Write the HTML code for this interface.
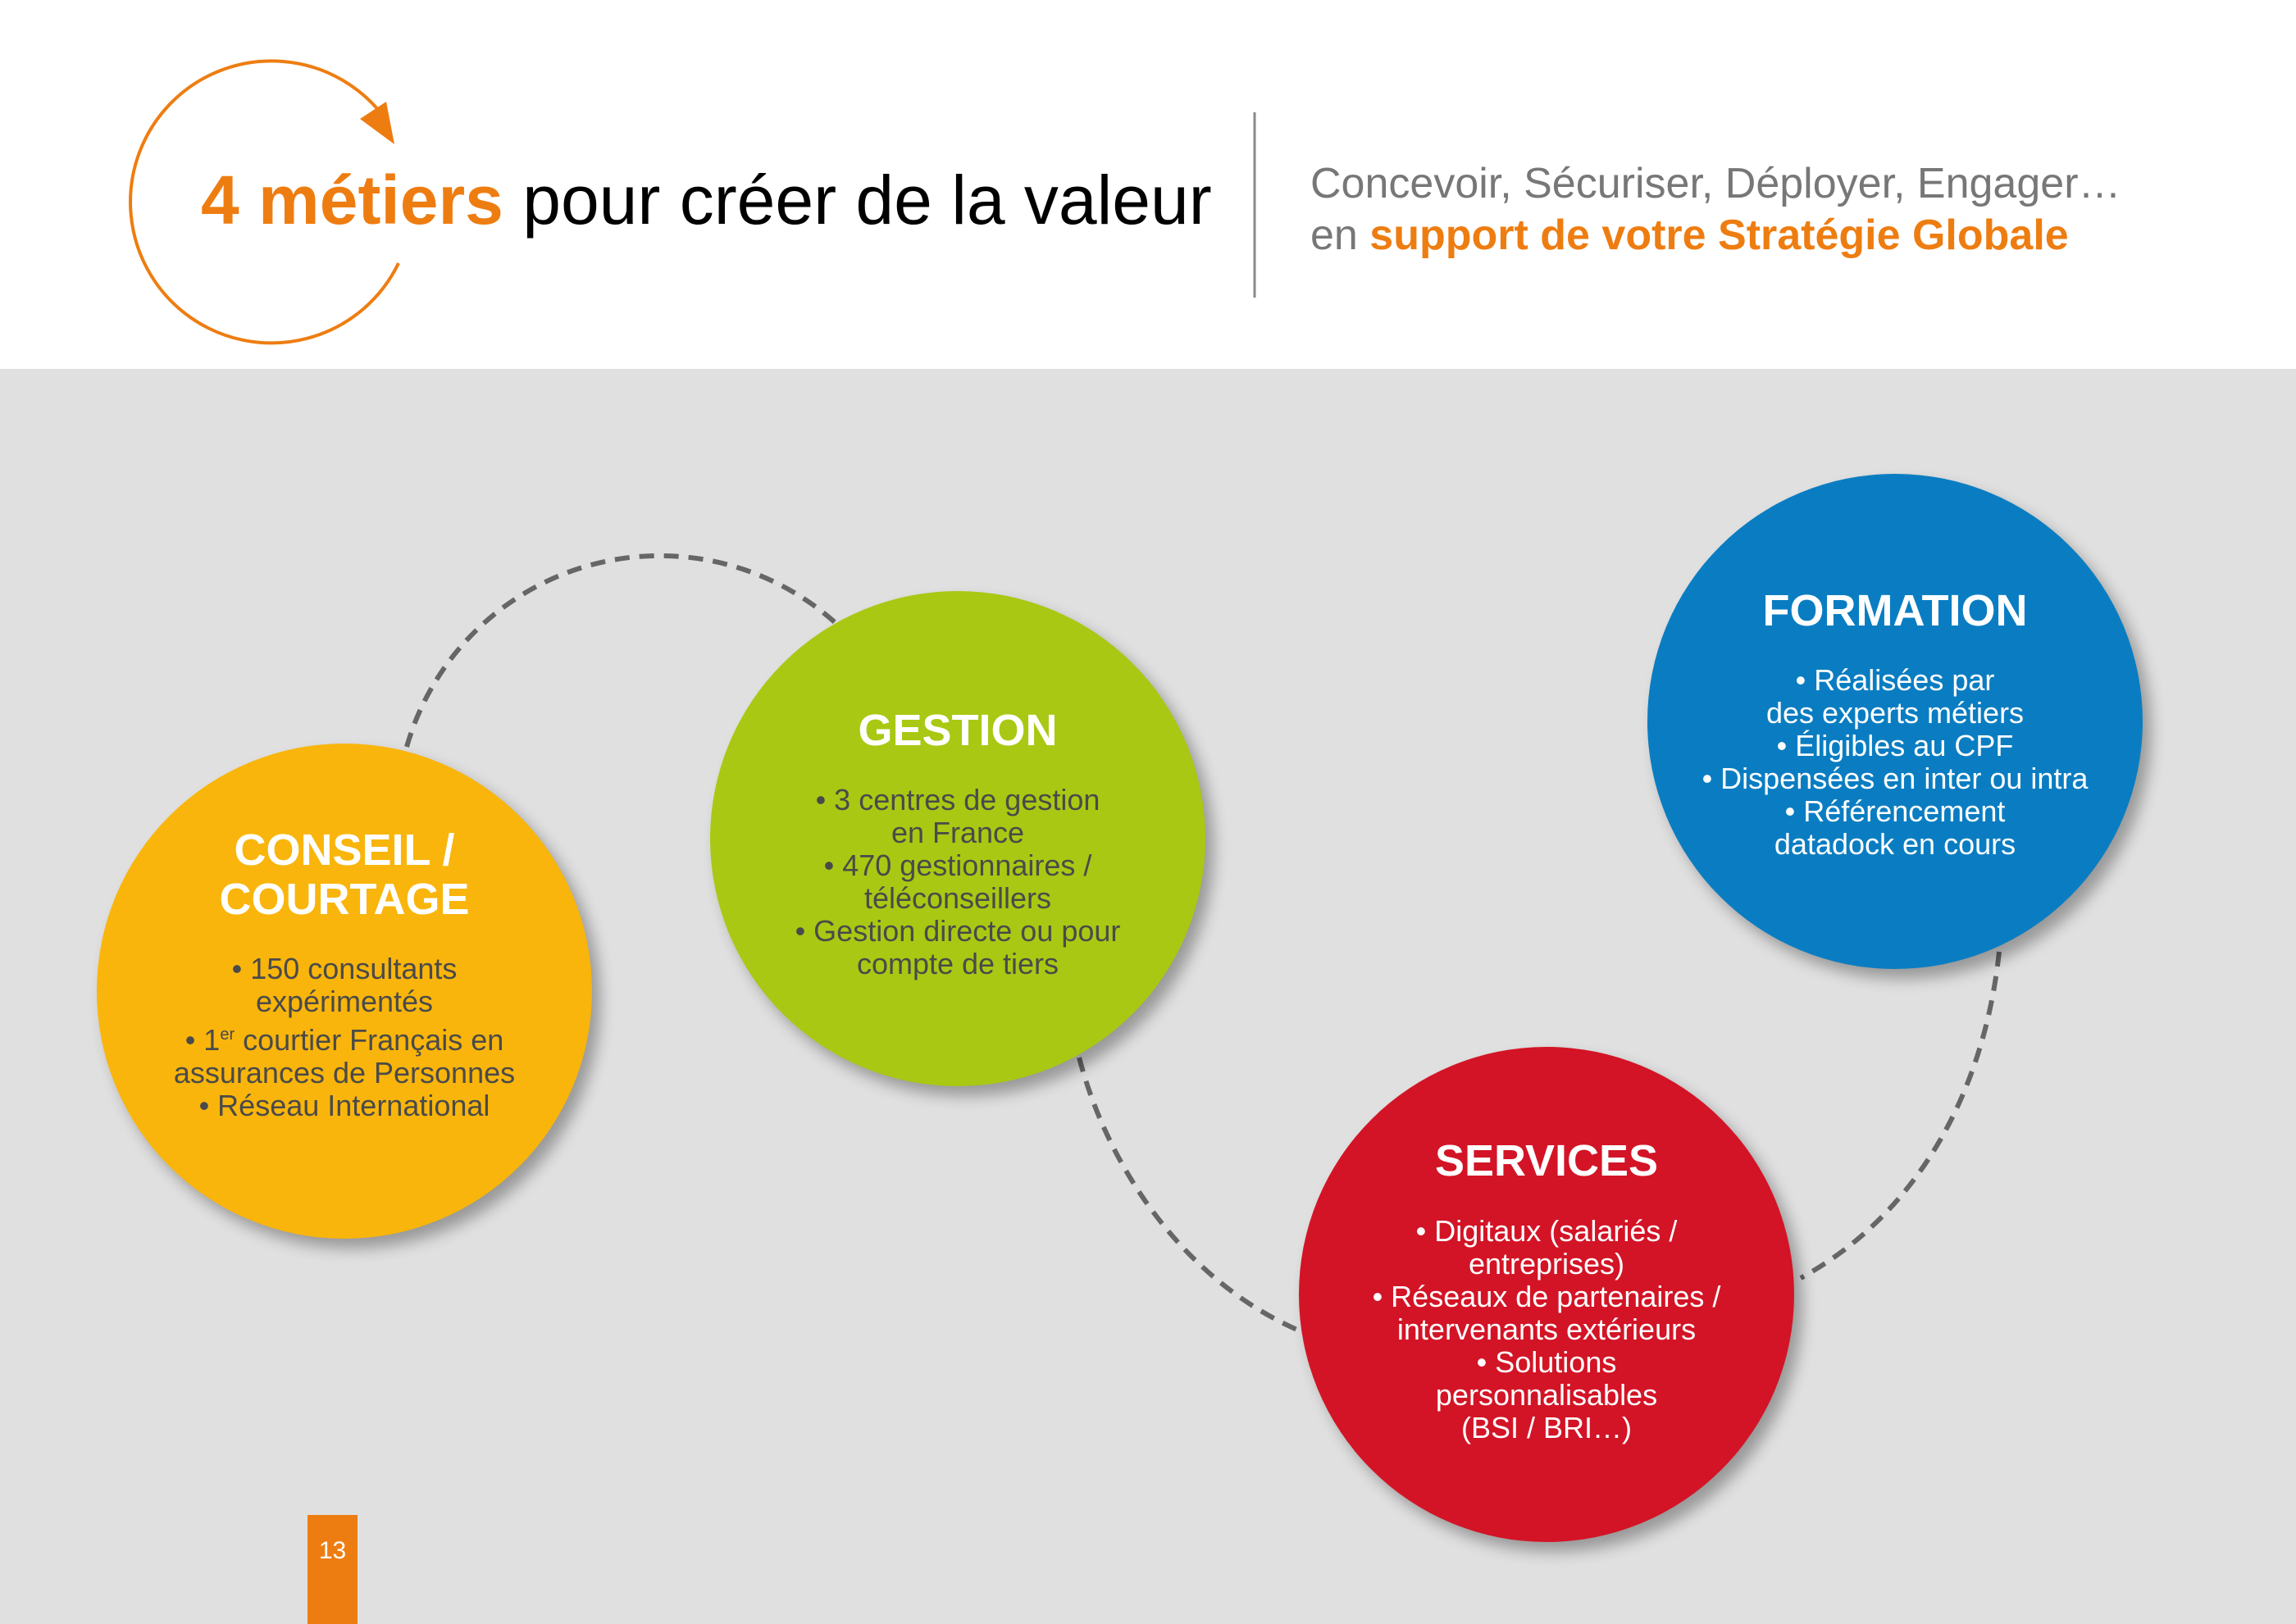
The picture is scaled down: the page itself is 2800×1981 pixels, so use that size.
<!DOCTYPE html>
<html><head><meta charset="utf-8"><style>
body{margin:0;width:2800px;height:1981px;position:relative;overflow:hidden;background:#e0e0e0;font-family:"Liberation Sans",Arial,sans-serif}
.hdr{position:absolute;left:0;top:0;width:2800px;height:450px;background:#fff}
.t{position:absolute;white-space:nowrap}
.c{position:absolute;width:604px;height:604px;border-radius:50%;box-shadow:10px 12px 18px rgba(0,0,0,.32);text-align:center}
.c .h{position:absolute;left:0;width:100%;font-weight:bold;font-size:54px;color:#fff;line-height:60px}
.c .b{position:absolute;left:0;width:100%;font-size:36px;line-height:40px}
</style></head><body>
<div class="hdr"></div>
<svg width="2800" height="1981" style="position:absolute;left:0;top:0">
<path d="M470,145 A172,172 0 1 0 486,321" fill="none" stroke="#ee7d11" stroke-width="4"/>
<polygon points="439,145 471,124 481,176" fill="#ee7d11"/>
<line x1="1530" y1="137" x2="1530" y2="363" stroke="#888" stroke-width="3"/>
<g fill="none" stroke="#666" stroke-width="6" stroke-dasharray="18 12">
<path d="M496,911 A321,321 0 0 1 1018,759"/>
<path d="M1316,1290 C1350,1420 1440,1560 1584,1623"/>
<path d="M2438,1161 C2420,1330 2340,1480 2196,1559"/>
</g>
</svg>
<div class="t" style="left:245px;top:196px;font-size:84px;color:#000"><b style="color:#ee7d11">4 métiers</b> pour créer de la valeur</div>
<div class="t" style="left:1598px;top:194px;font-size:52px;color:#777">Concevoir, Sécuriser, Déployer, Engager…</div>
<div class="t" style="left:1598px;top:257px;font-size:52px;color:#777">en <b style="color:#ee7d11">support de votre Stratégie Globale</b></div>

<div class="c" style="left:118px;top:907px;background:#f9b50b">
<div class="h" style="top:100px">CONSEIL /<br>COURTAGE</div>
<div class="b" style="top:255px;color:#4a4a4a">• 150 consultants<br>expérimentés<br>• 1<sup style="font-size:20px">er</sup> courtier Français en<br>assurances de Personnes<br>• Réseau International</div>
</div>
<div class="c" style="left:866px;top:721px;background:#a9c813">
<div class="h" style="top:140px">GESTION</div>
<div class="b" style="top:235px;color:#4a4a4a">• 3 centres de gestion<br>en France<br>• 470 gestionnaires /<br>téléconseillers<br>• Gestion directe ou pour<br>compte de tiers</div>
</div>
<div class="c" style="left:2009px;top:578px;background:#0a7dc2">
<div class="h" style="top:137px">FORMATION</div>
<div class="b" style="top:232px;color:#fff">• Réalisées par<br>des experts métiers<br>• Éligibles au CPF<br>• Dispensées en inter ou intra<br>• Référencement<br>datadock en cours</div>
</div>
<div class="c" style="left:1584px;top:1277px;background:#d31426">
<div class="h" style="top:109px">SERVICES</div>
<div class="b" style="top:205px;color:#fff">• Digitaux (salariés /<br>entreprises)<br>• Réseaux de partenaires /<br>intervenants extérieurs<br>• Solutions<br>personnalisables<br>(BSI / BRI…)</div>
</div>
<div style="position:absolute;left:375px;top:1848px;width:61px;height:133px;background:#ee7d11"></div>
<div class="t" style="left:375px;width:61px;text-align:center;top:1875px;font-size:30px;color:#fff">13</div>
</body></html>
